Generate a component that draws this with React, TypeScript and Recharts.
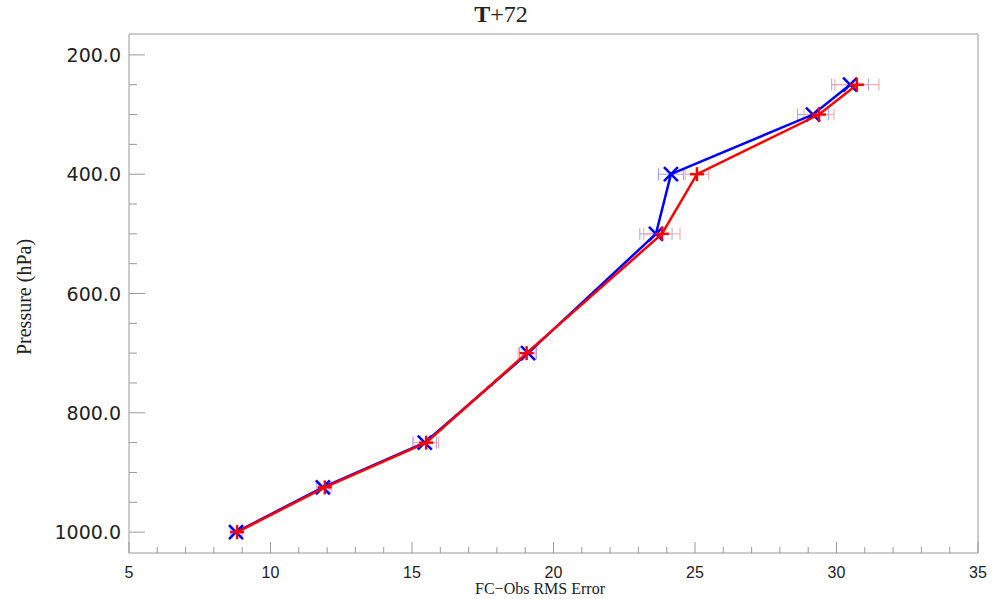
import React from 'react';
import {ErrorBar, Scatter, ScatterChart, XAxis, YAxis} from 'recharts';

// pressure levels (hPa) and FC-Obs RMS error for the two runs
const levels = [1000, 925, 850, 700, 500, 400, 300, 250];
const rmsBlue = [8.78, 11.85, 15.45, 19.1, 23.62, 24.15, 29.17, 30.48];
const rmsRed = [8.82, 11.92, 15.5, 19.05, 23.83, 25.07, 29.38, 30.72];
const errBlue = [0.18, 0.22, 0.42, 0.3, 0.57, 0.44, 0.55, 0.65];
const errRed = [0.18, 0.22, 0.44, 0.3, 0.64, 0.42, 0.53, 0.78];

const xTicks = [5, 6, 7, 8, 9, 10, 11, 12, 13, 14, 15, 16, 17, 18, 19, 20, 21, 22, 23, 24, 25, 26, 27, 28, 29, 30, 31, 32, 33, 34, 35];
const yTicks = [200, 250, 300, 350, 400, 450, 500, 550, 600, 650, 700, 750, 800, 850, 900, 950, 1000];

const blueData = levels.map((p, i) => ({x: rmsBlue[i], y: p, err: errBlue[i]}));
const redData = levels.map((p, i) => ({x: rmsRed[i], y: p, err: errRed[i]}));

const AXIS = '#999999';
const TEXT = '#222222';

const BottomTick = (props: any) => {
    const {x, y, payload} = props;
    const major = payload.value % 5 === 0;
    return (
        <g>
            <line x1={x} x2={x} y1={y} y2={y - (major ? 11 : 6)} stroke={AXIS} />
            {major && (
                <text x={x} y={y + 25} textAnchor='middle' fontSize={16} fontFamily='Liberation Sans' fill={TEXT}>
                    {payload.value}
                </text>
            )}
        </g>
    );
};

const TopTick = (props: any) => {
    const {x, y, payload} = props;
    const major = payload.value % 5 === 0;
    return <line x1={x} x2={x} y1={y} y2={y + (major ? 11 : 6)} stroke={AXIS} />;
};

const LeftTick = (props: any) => {
    const {x, y, payload} = props;
    const major = payload.value % 200 === 0;
    return (
        <g>
            <line x1={x} x2={x + (major ? 16 : 8)} y1={y} y2={y} stroke={AXIS} />
            {major && (
                <text x={x - 8} y={y + 7} textAnchor='end' fontSize={19} fontFamily='DejaVu Sans' fill={TEXT}>
                    {payload.value.toFixed(1)}
                </text>
            )}
        </g>
    );
};

const RightTick = (props: any) => {
    const {x, y, payload} = props;
    const major = payload.value % 200 === 0;
    return <line x1={x} x2={x - (major ? 16 : 8)} y1={y} y2={y} stroke={AXIS} />;
};

const CrossMark = (props: any) => {
    const {cx, cy} = props;
    const s = 7;
    return (
        <g stroke='#0000ff' strokeWidth={2.5}>
            <line x1={cx - s} y1={cy - s} x2={cx + s} y2={cy + s} />
            <line x1={cx - s} y1={cy + s} x2={cx + s} y2={cy - s} />
        </g>
    );
};

const PlusMark = (props: any) => {
    const {cx, cy} = props;
    const s = 7;
    return (
        <g stroke='#ff0000' strokeWidth={2.5}>
            <line x1={cx - s} y1={cy} x2={cx + s} y2={cy} />
            <line x1={cx} y1={cy - s} x2={cx} y2={cy + s} />
        </g>
    );
};

export default function App() {
    return (
        <div style={{position: 'absolute', left: 0, top: 0, width: 999, height: 599, background: '#fff'}}>
            <ScatterChart width={999} height={599} margin={{top: 33, right: 20, bottom: 45, left: 128}}>
                <XAxis
                    xAxisId='bottom'
                    type='number'
                    dataKey='x'
                    domain={[5, 35]}
                    ticks={xTicks}
                    interval={0}
                    height={1}
                    tickSize={0}
                    tickMargin={0}
                    tickLine={false}
                    axisLine={{stroke: AXIS}}
                    tick={<BottomTick />}
                />
                <XAxis
                    xAxisId='top'
                    orientation='top'
                    type='number'
                    domain={[5, 35]}
                    ticks={xTicks}
                    interval={0}
                    height={1}
                    tickSize={0}
                    tickMargin={0}
                    tickLine={false}
                    axisLine={{stroke: AXIS}}
                    tick={<TopTick />}
                />
                <YAxis
                    yAxisId='left'
                    type='number'
                    dataKey='y'
                    reversed
                    domain={[165, 1035]}
                    ticks={yTicks}
                    interval={0}
                    width={1}
                    tickSize={0}
                    tickMargin={0}
                    tickLine={false}
                    axisLine={{stroke: AXIS}}
                    tick={<LeftTick />}
                />
                <YAxis
                    yAxisId='right'
                    orientation='right'
                    type='number'
                    reversed
                    domain={[165, 1035]}
                    ticks={yTicks}
                    interval={0}
                    width={1}
                    tickSize={0}
                    tickMargin={0}
                    tickLine={false}
                    axisLine={{stroke: AXIS}}
                    tick={<RightTick />}
                />
                <Scatter
                    xAxisId='bottom'
                    yAxisId='left'
                    data={blueData}
                    line={{stroke: '#0000ff', strokeWidth: 2.5}}
                    lineType='joint'
                    shape={<CrossMark />}
                    isAnimationActive={false}
                >
                    <ErrorBar dataKey='err' direction='x' width={6} stroke='#a0a0ff' strokeWidth={1} />
                </Scatter>
                <Scatter
                    xAxisId='bottom'
                    yAxisId='left'
                    data={redData}
                    line={{stroke: '#ff0000', strokeWidth: 2.5}}
                    lineType='joint'
                    shape={<PlusMark />}
                    isAnimationActive={false}
                >
                    <ErrorBar dataKey='err' direction='x' width={6} stroke='#ffa0a0' strokeWidth={1} />
                </Scatter>
                <text x={501} y={22} textAnchor='middle' fontSize={24} fontFamily='Liberation Serif' fill={TEXT}>
                    <tspan fontWeight='bold'>T</tspan>+72
                </text>
                <text x={540} y={594} textAnchor='middle' fontSize={16} fontFamily='Liberation Serif' fill={TEXT}>
                    FC−Obs RMS Error
                </text>
                <text
                    x={31}
                    y={297}
                    transform='rotate(-90 31 297)'
                    textAnchor='middle'
                    fontSize={20}
                    fontFamily='Liberation Serif'
                    fill={TEXT}
                >
                    Pressure (hPa)
                </text>
            </ScatterChart>
        </div>
    );
}
